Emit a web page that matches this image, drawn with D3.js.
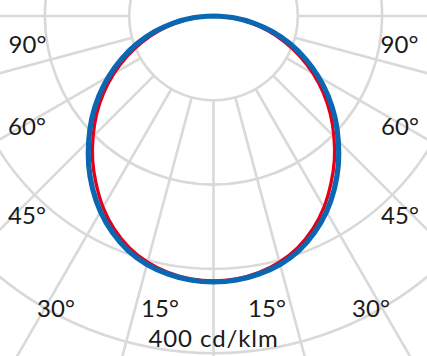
<!DOCTYPE html>
<html lang="en">
<head>
  <meta charset="UTF-8" />
  <title>d3.js light distribution curve</title>
  <script src="https://d3js.org/d3.v7.min.js"></script>
  <style>
    body { margin: 0; background: #fff; }
    svg { display: block; }
  </style>
</head>
<body>

<script type="text/javascript">

// gamma angles (deg from nadir), one half - curve is mirrored
var gammas = [0, 5, 10, 15, 20, 25, 30, 35, 40, 45, 50, 55, 60, 65, 70, 75, 80, 85, 90];

// C90-270 plane (blue), cd/klm
var c90 = [315.5, 314.4, 310.8, 305.1, 296.2, 283.5, 268.1, 250.1, 230.4, 209.3,
           188.3, 166.3, 143.5, 120.3, 96.7, 72.7, 48.5, 24.3, 0];

// C0-180 plane (red), cd/klm
var c0 = [314.3, 313.0, 309.0, 302.2, 292.4, 278.8, 262.0, 242.8, 223.1, 202.0,
          181.0, 159.0, 136.3, 113.2, 89.8, 66.6, 43.3, 21.1, 0];

var rings = [100, 200, 300, 400];
var spokes = d3.range(0, 360, 15);

var angleLabels = ["15°", "30°", "45°", "60°", "90°"];
var unitLabel = "400 cd/klm";

var width = 427,
    height = 356;

var cx = 213.5, cy = 16;

var svg = d3.select("body")
  .append("svg")
  .attr("width", width)
  .attr("height", height);

var g = svg.append("g")
  .attr("transform", "translate(" + cx + "," + cy + ")");

var r = d3.scaleLinear()
  .domain([0, 400])
  .range([0, 337.2]);

var grid = "#d9d9d9";

//circles
g.append("g")
  .selectAll("circle")
  .data(rings)
  .enter()
  .append("circle")
  .attr("r", function(d) { return r(d); })
  .attr("fill", "none")
  .attr("stroke", grid)
  .attr("stroke-width", 2.6);

//spokes start at the first circle
g.append("g")
  .selectAll("line")
  .data(spokes)
  .enter()
  .append("line")
  .attr("x1", function(d) { return r(100) * Math.sin(d * Math.PI / 180); })
  .attr("y1", function(d) { return r(100) * Math.cos(d * Math.PI / 180); })
  .attr("x2", function(d) { return r(600) * Math.sin(d * Math.PI / 180); })
  .attr("y2", function(d) { return r(600) * Math.cos(d * Math.PI / 180); })
  .attr("stroke", grid)
  .attr("stroke-width", 2.6);

//build full curve -90..90 from the half values
function fullCurve(vals) {
  var pts = [];
  for (var i = gammas.length - 1; i > 0; i--) pts.push([-gammas[i], vals[i]]);
  for (var j = 0; j < gammas.length; j++) pts.push([gammas[j], vals[j]]);
  return pts;
}

var line = d3.lineRadial()
  .angle(function(d) { return Math.PI + d[0] * Math.PI / 180; })
  .radius(function(d) { return r(d[1]); })
  .curve(d3.curveCatmullRom);

g.append("path")
  .datum(fullCurve(c0))
  .attr("d", line)
  .attr("fill", "none")
  .attr("stroke", "#e3001b")
  .attr("stroke-width", 3.3);

g.append("path")
  .datum(fullCurve(c90))
  .attr("d", line)
  .attr("fill", "none")
  .attr("stroke", "#0a67b2")
  .attr("stroke-width", 5.2);

//labels, placed left and right of the centre line
var labelPos = [
  {dx: 53.5, y: 316.5},
  {dx: 157.5, y: 317},
  {dx: 186.5, y: 224},
  {dx: 186.5, y: 135},
  {dx: 186, y: 52.5}
];

var labels = [];
angleLabels.forEach(function(t, i) {
  labels.push({text: t, x: cx - labelPos[i].dx, y: labelPos[i].y, ls: 0});
  labels.push({text: t, x: cx + labelPos[i].dx, y: labelPos[i].y, ls: 0});
});
labels.push({text: unitLabel, x: cx, y: 346.5, ls: 0.9});

svg.append("g")
  .selectAll("text")
  .data(labels)
  .enter()
  .append("text")
  .attr("x", function(d) { return d.x; })
  .attr("y", function(d) { return d.y; })
  .attr("text-anchor", "middle")
  .attr("font-family", "Lato, sans-serif")
  .attr("font-size", "24px")
  .attr("letter-spacing", function(d) { return d.ls + "px"; })
  .attr("fill", "#1a1a1a")
  .text(function(d) { return d.text; });

</script>
</body>
</html>
